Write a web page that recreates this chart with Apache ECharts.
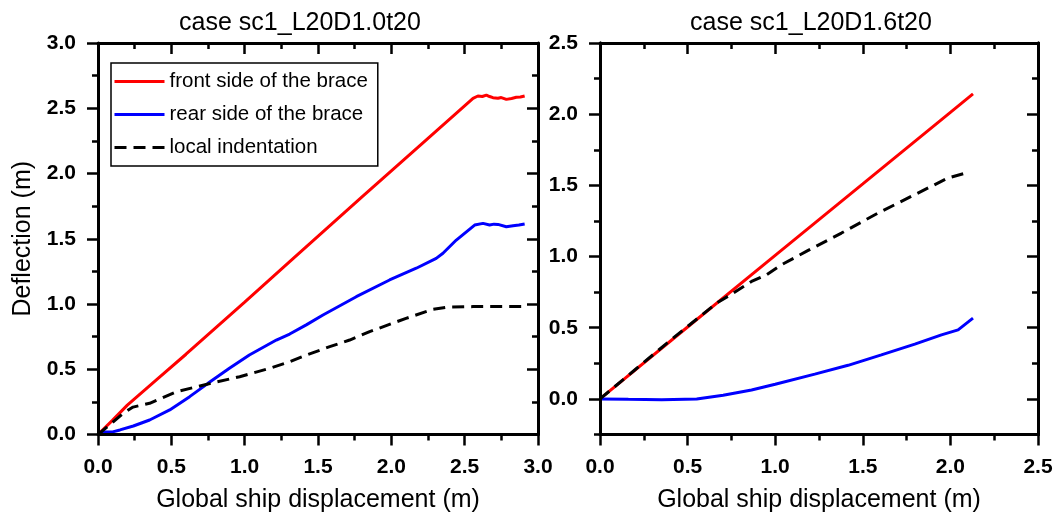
<!DOCTYPE html>
<html><head><meta charset="utf-8">
<script src="https://cdn.jsdelivr.net/npm/echarts@6/dist/echarts.min.js"></script>
<style>html,body{margin:0;padding:0;background:#fff}#c{width:1055px;height:512px}</style>
</head><body><div id="c"></div>
<script>
const titles = ['case sc1_L20D1.0t20', 'case sc1_L20D1.6t20'];
const seriesNames = ['front side of the brace', 'rear side of the brace', 'local indentation'];
const xName = 'Global ship displacement (m)';
const yName = 'Deflection (m)';

// left panel (case sc1_L20D1.0t20)
const leftFront = [[0,0],[0.1,0.11],[0.2,0.225],[0.4,0.42],[0.6,0.615],[1.0,1.015],[1.307,1.324],[1.8,1.82],[2.2,2.22],[2.557,2.576],[2.59,2.594],[2.62,2.59],[2.648,2.601],[2.67,2.59],[2.693,2.581],[2.727,2.576],[2.75,2.582],[2.784,2.568],[2.82,2.575],[2.852,2.584],[2.88,2.586],[2.909,2.594]];
const leftRear = [[0,0],[0.05,0.02],[0.1,0.02],[0.15,0.035],[0.241,0.065],[0.352,0.111],[0.489,0.188],[0.625,0.29],[0.75,0.392],[0.896,0.507],[1.032,0.609],[1.216,0.724],[1.307,0.77],[1.42,0.84],[1.534,0.916],[1.761,1.056],[1.988,1.184],[2.17,1.274],[2.306,1.35],[2.352,1.389],[2.443,1.49],[2.568,1.605],[2.625,1.618],[2.67,1.605],[2.7,1.612],[2.727,1.61],[2.784,1.592],[2.83,1.6],[2.87,1.605],[2.909,1.613]];
const leftLocal = [[0,0],[0.08,0.075],[0.171,0.162],[0.239,0.21],[0.352,0.239],[0.534,0.328],[0.75,0.387],[0.966,0.443],[1.17,0.507],[1.307,0.558],[1.42,0.609],[1.58,0.673],[1.716,0.724],[1.852,0.788],[2.1,0.89],[2.284,0.959],[2.375,0.975],[2.557,0.98],[2.909,0.98]];

// right panel (case sc1_L20D1.6t20)
const rightFront = [[0,0],[0.5,0.505],[1.0,1.008],[1.5,1.51],[2.0,2.013],[2.129,2.143]];
const rightRear = [[0,0],[0.162,-0.003],[0.352,-0.006],[0.552,0.0],[0.703,0.026],[0.865,0.063],[1.0,0.103],[1.226,0.174],[1.416,0.236],[1.606,0.309],[1.797,0.385],[1.949,0.45],[2.044,0.485],[2.129,0.567]];
const rightLocal = [[0,0],[0.2,0.205],[0.4,0.41],[0.666,0.673],[0.76,0.743],[0.865,0.825],[0.951,0.872],[1.036,0.942],[1.188,1.043],[1.378,1.165],[1.588,1.306],[1.797,1.435],[1.987,1.552],[2.073,1.582]];

const leftXTicks = {min: 0, max: 3, interval: 0.5};
const leftYTicks = {min: 0, max: 3, interval: 0.5};
const rightXTicks = {min: 0, max: 2.5, interval: 0.5};
const rightYRange = {min: -0.25, max: 2.5, minorInterval: 0.25};
const rightYMajor = [0, 0.5, 1.0, 1.5, 2.0, 2.5];

const FF = '"Liberation Sans", Arial, sans-serif';
const colors = ['#ff0000', '#0000ff', '#000000'];
const fmt = v => Number(v).toFixed(1);

function axis(o) {
  const a = {
    type: 'value', gridIndex: o.grid, position: o.pos,
    min: o.min, max: o.max,
    splitLine: {show: false},
    axisLine: {show: true, onZero: false, lineStyle: {color: '#000', width: 3}},
    axisTick: {show: true, inside: !!o.inside, length: o.tickLen || 11, lineStyle: {color: '#000', width: 2.5}},
    minorTick: {show: !!o.minor, splitNumber: 2, length: 6, lineStyle: {color: '#000', width: 2.5}},
    axisLabel: {show: !!o.labels, formatter: fmt, color: '#000', fontFamily: FF, fontWeight: 'bold', fontSize: 21, margin: 22, showMinLabel: true, showMaxLabel: true},
    z: 5
  };
  if (o.interval !== undefined) a.interval = o.interval;
  if (o.custom) { a.axisTick.customValues = o.custom; a.axisLabel.customValues = o.custom; }
  if (o.name) {
    a.name = o.name; a.nameLocation = 'middle'; a.nameGap = o.nameGap;
    a.nameTextStyle = {color: '#000', fontFamily: FF, fontSize: 25};
  }
  return a;
}

const xAxes = [
  axis({grid: 0, pos: 'bottom', ...leftXTicks, minor: true, labels: true, name: xName, nameGap: 53}),
  axis({grid: 0, pos: 'top', ...leftXTicks, minor: true, inside: true}),
  axis({grid: 1, pos: 'bottom', ...rightXTicks, minor: true, labels: true, name: xName, nameGap: 53}),
  axis({grid: 1, pos: 'top', ...rightXTicks, minor: true, inside: true})
];
const yAxes = [
  axis({grid: 0, pos: 'left', ...leftYTicks, minor: true, labels: true, name: yName, nameGap: 62}),
  axis({grid: 0, pos: 'right', ...leftYTicks, minor: true, inside: true}),
  axis({grid: 1, pos: 'left', min: rightYRange.min, max: rightYRange.max, interval: rightYRange.minorInterval, tickLen: 6}),
  axis({grid: 1, pos: 'left', min: rightYRange.min, max: rightYRange.max, interval: rightYRange.minorInterval, custom: rightYMajor, labels: true}),
  axis({grid: 1, pos: 'right', min: rightYRange.min, max: rightYRange.max, interval: rightYRange.minorInterval, tickLen: 6, inside: true}),
  axis({grid: 1, pos: 'right', min: rightYRange.min, max: rightYRange.max, interval: rightYRange.minorInterval, custom: rightYMajor, inside: true})
];

function line(name, data, i, xi, yi) {
  return {
    name, type: 'line', data, xAxisIndex: xi, yAxisIndex: yi,
    symbol: 'none', showSymbol: false, animation: false,
    lineStyle: {color: colors[i], width: 3, type: i === 2 ? [12, 7] : 'solid'},
    itemStyle: {color: colors[i]}
  };
}

const chart = echarts.init(document.getElementById('c'), null, {renderer: 'canvas'});
chart.setOption({
  animation: false,
  backgroundColor: '#fff',
  grid: [
    {left: 98, right: 1055 - 538, top: 43, bottom: 512 - 434.5, containLabel: false, outerBoundsMode: 'none'},
    {left: 600, right: 1055 - 1038, top: 43, bottom: 512 - 434.5, containLabel: false, outerBoundsMode: 'none'}
  ],
  xAxis: xAxes,
  yAxis: yAxes,
  legend: {
    data: seriesNames, orient: 'vertical', left: 111, top: 63,
    padding: [8, 10, 8, 2], itemGap: 12, itemWidth: 50, itemHeight: 14,
    borderColor: '#000', borderWidth: 1.5, backgroundColor: '#fff',
    itemStyle: {opacity: 0},
    lineStyle: {width: 3},
    textStyle: {color: '#000', fontFamily: FF, fontSize: 20.5},
    selectedMode: false
  },
  graphic: [
    {type: 'text', x: 300, y: 23, style: {text: titles[0], fill: '#000', font: '25px ' + FF, align: 'center', verticalAlign: 'middle'}},
    {type: 'text', x: 811, y: 23, style: {text: titles[1], fill: '#000', font: '25px ' + FF, align: 'center', verticalAlign: 'middle'}}
  ],
  series: [
    line(seriesNames[0], leftFront, 0, 0, 0),
    line(seriesNames[1], leftRear, 1, 0, 0),
    line(seriesNames[2], leftLocal, 2, 0, 0),
    line(seriesNames[0], rightFront, 0, 2, 2),
    line(seriesNames[1], rightRear, 1, 2, 2),
    line(seriesNames[2], rightLocal, 2, 2, 2)
  ]
});
</script></body></html>
